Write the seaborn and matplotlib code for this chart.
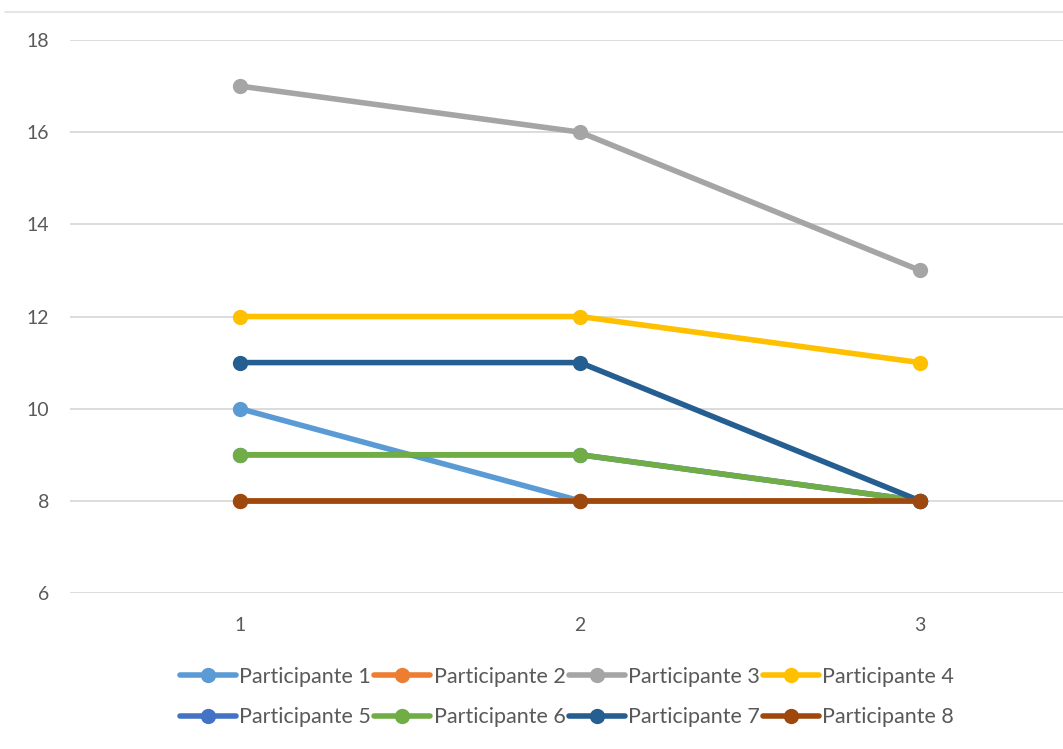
import matplotlib
matplotlib.use("Agg")
import matplotlib.pyplot as plt
import seaborn as sns
import pandas as pd
from matplotlib.lines import Line2D

sns.set_theme(style="white")
plt.rcParams["font.family"] = ["Lato", "DejaVu Sans"]

# Sessions and scores per participant
sessions = [1, 2, 3]
participants = [f"Participante {i}" for i in range(1, 9)]
p1 = [10, 8, 8]
p2 = [8, 8, 8]
p3 = [17, 16, 13]
p4 = [12, 12, 11]
p5 = [9, 9, 8]
p6 = [9, 9, 8]
p7 = [11, 11, 8]
p8 = [8, 8, 8]
series = [p1, p2, p3, p4, p5, p6, p7, p8]

colors = ["#5B9BD5", "#ED7D31", "#A5A5A5", "#FFC000",
          "#4472C4", "#70AD47", "#255E91", "#9E480E"]

rows = []
for name, vals in zip(participants, series):
    for s, v in zip(sessions, vals):
        rows.append({"Sesión": s, "Puntuación": v, "Participante": name})
df = pd.DataFrame(rows)

LW = 4.0
MS = 11

W, H = 1063, 749
fig = plt.figure(figsize=(W / 100, H / 100), dpi=100)
# plot area runs past the right edge of the figure
ax = fig.add_axes([70 / W, (H - 593) / H, 1020 / W, 553 / H])

sns.lineplot(data=df, x="Sesión", y="Puntuación", hue="Participante",
             palette=colors, marker="o", markersize=MS, markeredgewidth=0,
             linewidth=LW, ax=ax, legend=False, zorder=3)

ax.set_xlim(0.5, 3.5)
ax.set_ylim(6, 18)
ax.set_yticks([6, 8, 10, 12, 14, 16, 18])
ax.set_xticks(sessions)
ax.set_xticklabels([str(s) for s in sessions])
ax.grid(axis="y", color="#D9D9D9", linewidth=1.3, zorder=0)
ax.grid(axis="x", visible=False)
for sp in ax.spines.values():
    sp.set_visible(False)
ax.tick_params(axis="both", length=0, labelsize=14, labelcolor="#595959")
ax.tick_params(axis="y", pad=15)
ax.tick_params(axis="x", pad=17)
ax.set_xlabel("")
ax.set_ylabel("")

# legend filled row by row: reorder for matplotlib's column-wise layout
order = [0, 4, 1, 5, 2, 6, 3, 7]
handles = [Line2D([0], [0], color=colors[i], linewidth=LW, marker="o",
                  markersize=MS, markeredgewidth=0) for i in order]
labels = [participants[i] for i in order]
fig.legend(handles, labels, loc="center", ncol=4,
           bbox_to_anchor=(567 / W, 1 - 697 / H), frameon=False,
           fontsize=15.5, labelcolor="#595959", handlelength=2.6,
           handletextpad=0.15, columnspacing=0.15, labelspacing=0.95)

fig.add_artist(Line2D([5 / W, 1], [1 - 12 / H, 1 - 12 / H],
                      color="#E3E3E3", linewidth=1.3,
                      transform=fig.transFigure))

fig.savefig("out.png", dpi=100, facecolor="white")
